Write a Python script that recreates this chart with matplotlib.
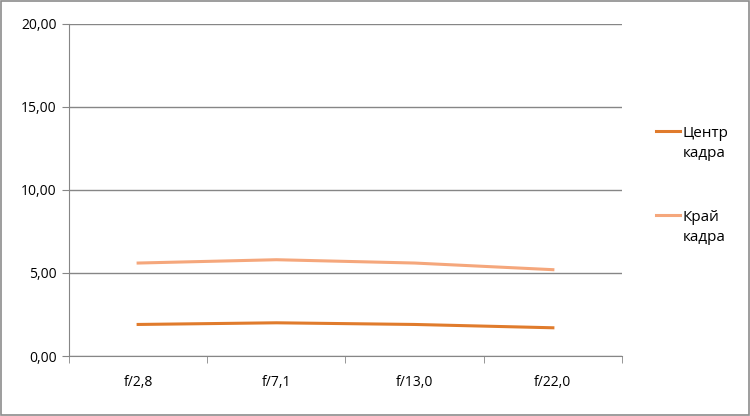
import matplotlib.pyplot as plt
from matplotlib.ticker import FuncFormatter, FixedLocator
from matplotlib.patches import Rectangle
from matplotlib.lines import Line2D

plt.rcParams['font.family'] = ['Open Sans', 'DejaVu Sans']

apertures = ['f/2,8', 'f/7,1', 'f/13,0', 'f/22,0']
center = [1.9, 2.0, 1.9, 1.7]
edge = [5.6, 5.8, 5.6, 5.2]
series_names = ['Центр\nкадра', 'Край\nкадра']
colors = ['#E07B2C', '#F5A77C']

fig = plt.figure(figsize=(7.5, 4.16), dpi=100)
ax = fig.add_axes([69/750, 1-356/416, 553/750, 332/416])

x = list(range(len(apertures)))
for vals, c in zip([center, edge], colors):
    ax.plot(x, vals, color=c, lw=2.2)

ax.set_xlim(-0.5, len(apertures) - 0.5)
ax.set_ylim(0, 20)
ax.set_yticks([0, 5, 10, 15, 20])
ax.yaxis.set_major_formatter(FuncFormatter(lambda v, p: f'{v:.2f}'.replace('.', ',')))
ax.yaxis.grid(True, color='#868686', lw=1)
ax.set_axisbelow(True)

ax.set_xticks(x)
ax.set_xticklabels(apertures)
ax.xaxis.set_minor_locator(FixedLocator([i - 0.5 for i in range(len(apertures) + 1)]))
ax.tick_params(axis='x', which='major', length=0, pad=14, labelsize=10)
ax.tick_params(axis='x', which='minor', length=5, color='#868686', direction='out')
ax.tick_params(axis='y', length=5, color='#868686', labelsize=10, pad=4)

for s in ['top', 'right']:
    ax.spines[s].set_visible(False)
for s in ['left', 'bottom']:
    ax.spines[s].set_color('#868686')

# legend: handle lines up with the first text line
for i, (name, c) in enumerate(zip(series_names, colors)):
    yy = 1 - (131 + i * 84) / 416
    fig.add_artist(Line2D([656/750, 680/750], [yy, yy], color=c, lw=2.2,
                          transform=fig.transFigure))
    fig.text(683/750, yy + 5/416, name, fontsize=11, va='top', ha='left',
             linespacing=1.45)

fig.patches.append(Rectangle((0.001, 0.002), 0.997, 0.996, transform=fig.transFigure,
                             fill=False, edgecolor='#8c8c8c', lw=1.2))

fig.savefig('out.png', dpi=100)
